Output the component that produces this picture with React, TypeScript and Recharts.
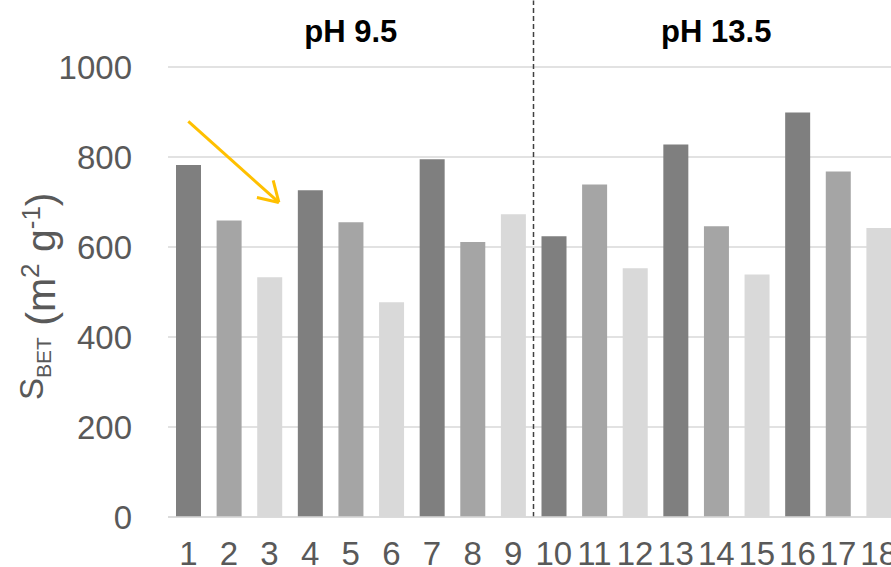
import React from 'react';
import { BarChart, Bar, XAxis, YAxis, CartesianGrid, Cell, ReferenceLine, ReferenceArea } from 'recharts';

const sampleIds = [1, 2, 3, 4, 5, 6, 7, 8, 9, 10, 11, 12, 13, 14, 15, 16, 17, 18];
const sbetValues = [782, 659, 533, 726, 655, 477, 795, 611, 673, 624, 739, 553, 828, 646, 539, 899, 768, 642];
const shadeCycle = ['#7f7f7f', '#a5a5a5', '#d9d9d9'];
const yTicks = [0, 200, 400, 600, 800, 1000];
const groupTitles = ['pH 9.5', 'pH 13.5'];
const groupBounds = [[0.5, 9.5], [9.5, 18.5]];
const dividerX = 9.5;
const dividerTop = 1148;
const arrowShaft = [1.0, 879, 3.23, 699];
const arrowArmA = [2.69, 710, 3.23, 699];
const arrowArmB = [3.09, 748, 3.23, 699];

const data = sampleIds.map((id, i) => ({ id, value: sbetValues[i] }));

const FONT = '"Liberation Sans", Arial, sans-serif';

const YLabel = () => (
  <text transform="translate(55,400) rotate(-90)" fill="#595959" fontFamily={FONT}>
    <tspan fontSize={33} dy={-12}>S</tspan>
    <tspan fontSize={21} dy={8}>BET</tspan>
    <tspan fontSize={41} dy={4}>{'\u00a0(m'}</tspan>
    <tspan fontSize={26} dy={-16}>2</tspan>
    <tspan fontSize={41} dy={16}>{'\u00a0g'}</tspan>
    <tspan fontSize={26} dy={-15}>-1</tspan>
    <tspan fontSize={41} dy={15}>)</tspan>
  </text>
);

const seg = (a: number[]) => [{ x: a[0], y: a[1] }, { x: a[2], y: a[3] }];

export default function App() {
  return (
    <div style={{ position: 'fixed', left: 0, top: 0, width: 891, height: 567, overflow: 'hidden', background: '#fff', fontFamily: FONT }}>
      <BarChart width={899} height={600} data={data} margin={{ top: 67, right: 0, bottom: 0, left: 0 }}>
        <CartesianGrid vertical={false} horizontal={true} stroke="#d9d9d9" strokeWidth={1.5} fill="none" />
        <XAxis
          type="number"
          dataKey="id"
          domain={[0.5, 18.5]}
          ticks={sampleIds}
          interval={0}
          height={83}
          tickLine={false}
          tickSize={6}
          tickMargin={19}
          axisLine={{ stroke: '#d9d9d9', strokeWidth: 1.5 }}
          tick={{ fontSize: 33, fill: '#595959', fontFamily: FONT }}
        />
        <YAxis
          type="number"
          domain={[0, 1000]}
          ticks={yTicks}
          interval={0}
          width={168}
          stroke="#ff00ff"
          axisLine={false}
          tickLine={false}
          tickSize={6}
          tickMargin={30}
          tick={{ fontSize: 33, fill: '#595959', fontFamily: FONT }}
          label={<YLabel />}
        />
        {groupTitles.map((t, i) => (
          <ReferenceArea
            key={t}
            x1={groupBounds[i][0]}
            x2={groupBounds[i][1]}
            y1={1000}
            y2={dividerTop}
            fill="none"
            fillOpacity={0}
            stroke="none"
            ifOverflow="visible"
            label={{ value: t, position: 'insideTop', offset: 20, fontSize: 31, fontWeight: 'bold', fill: '#000', fontFamily: FONT }}
          />
        ))}
        <Bar dataKey="value" barSize={25} isAnimationActive={false}>
          {data.map((d, i) => (
            <Cell key={d.id} fill={shadeCycle[i % 3]} />
          ))}
        </Bar>
        <ReferenceLine segment={[{ x: dividerX, y: 0 }, { x: dividerX, y: dividerTop }]} stroke="#404040" strokeWidth={1.5} strokeDasharray="5 3" ifOverflow="visible" />
        <ReferenceLine segment={seg(arrowShaft)} stroke="#ffc000" strokeWidth={3} ifOverflow="visible" />
        <ReferenceLine segment={seg(arrowArmA)} stroke="#ffc000" strokeWidth={3} ifOverflow="visible" />
        <ReferenceLine segment={seg(arrowArmB)} stroke="#ffc000" strokeWidth={3} ifOverflow="visible" />
      </BarChart>
    </div>
  );
}
